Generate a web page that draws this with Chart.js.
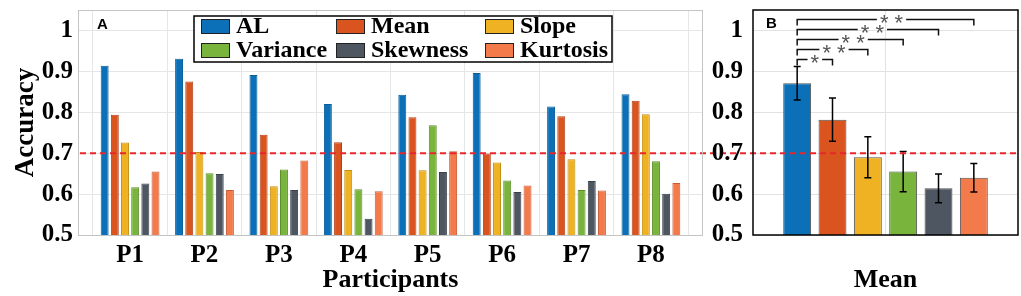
<!DOCTYPE html>
<html><head><meta charset="utf-8">
<script src="https://cdn.jsdelivr.net/npm/chart.js@4.4.1/dist/chart.umd.min.js"></script>
<style>
html,body{margin:0;padding:0;background:#fff;}
#wrap{position:relative;width:1021px;height:296px;overflow:hidden;}
#c1{position:absolute;left:0;top:0;}
#c2{position:absolute;left:705px;top:0;}
</style></head><body>
<div id="wrap">
<canvas id="c1" width="705" height="296"></canvas>
<canvas id="c2" width="316" height="296"></canvas>
</div>
<script>
// ---------- data ----------
const participants = ['P1','P2','P3','P4','P5','P6','P7','P8'];
const participantX = [1,2,3,4,5,6,7,8];
const seriesNames = ['AL','Mean','Slope','Variance','Skewness','Kurtosis'];
const AL       = [0.914,0.931,0.891,0.820,0.843,0.896,0.814,0.844];
const Mean     = [0.794,0.875,0.745,0.727,0.788,0.699,0.790,0.828];
const Slope    = [0.726,0.703,0.619,0.659,0.658,0.677,0.685,0.795];
const Variance = [0.617,0.651,0.660,0.612,0.768,0.633,0.610,0.680];
const Skewness = [0.626,0.649,0.610,0.540,0.654,0.605,0.632,0.601];
const Kurtosis = [0.655,0.610,0.682,0.607,0.705,0.621,0.609,0.627];
const seriesValues = [AL, Mean, Slope, Variance, Skewness, Kurtosis];
const meanAccuracy = [0.871,0.782,0.690,0.655,0.614,0.640];
const meanError    = [0.041,0.053,0.050,0.049,0.035,0.035];
const yTicks = [0.5,0.6,0.7,0.8,0.9,1];
const chanceLevel = 0.7;
const significance = [
  {from:0, to:1, label:'*'},
  {from:0, to:2, label:'**'},
  {from:0, to:3, label:'**'},
  {from:0, to:4, label:'**'},
  {from:0, to:5, label:'**'}
];

// ---------- styles ----------
const fills  = ['#0b70b8','#d9541e','#efb222','#79b53c','#4d5661','#f27a4b'];
const edges  = ['#0a5d98','#b2421a','#c08d10','#5e8e2c','#3a4149','#c85c35'];
const SERIF = '"Liberation Serif","Times New Roman",serif';
const SANS = '"Liberation Sans",Arial,sans-serif';
const tickFont = {family:SERIF, size:25, weight:'bold'};
const titleFont = {family:SERIF, size:26, weight:'bold'};
const fmt = v => String(Math.round(v*10)/10);
const noPad = s => { s.paddingTop = 0; s.paddingBottom = 0; s.paddingLeft = 0; s.paddingRight = 0; };

function dashLine(ctx, x0, x1, y, absOffset){
  ctx.save();
  ctx.strokeStyle = '#e8262b';
  ctx.lineWidth = 2;
  ctx.setLineDash([6,4]);
  ctx.lineDashOffset = x0 + absOffset;
  ctx.beginPath(); ctx.moveTo(x0,y); ctx.lineTo(x1,y); ctx.stroke();
  ctx.restore();
}

// ---------- left chart ----------
const leftPlugin = {
  id:'leftDeco',
  beforeDraw(chart){
    const {ctx, chartArea:a, scales:{y}} = chart;
    dashLine(ctx, a.right, chart.width, y.getPixelForValue(chanceLevel), 0);
  },
  afterDatasetsDraw(chart){
    const {ctx, chartArea:a, scales:{y}} = chart;
    dashLine(ctx, a.left, a.right, y.getPixelForValue(chanceLevel), 0);
    // box
    ctx.save();
    ctx.strokeStyle = '#c4c4c4'; ctx.lineWidth = 1;
    ctx.strokeRect(a.left+0.5, a.top+0.5, a.right-a.left-1, a.bottom-a.top);
    ctx.restore();
    // panel letter
    ctx.save();
    ctx.font = 'bold 15px ' + SANS; ctx.fillStyle = '#000';
    ctx.textBaseline = 'alphabetic'; ctx.textAlign = 'left';
    ctx.fillText('A', a.left + 19, a.top + 19);
    ctx.restore();
    // legend
    const lx = a.left + 116, ly = a.top + 6, lw = 418, lh = 46;
    ctx.save();
    ctx.fillStyle = '#fff'; ctx.fillRect(lx, ly, lw, lh);
    ctx.strokeStyle = '#000'; ctx.lineWidth = 1.5; ctx.strokeRect(lx, ly, lw, lh);
    const colX = [lx + 7, lx + 142, lx + 291];
    const rowY = [ly + 10, ly + 34];
    ctx.font = 'bold 24px ' + SERIF;
    ctx.textBaseline = 'middle'; ctx.textAlign = 'left';
    chart.data.datasets.forEach((ds, i) => {
      const cx = colX[i % 3], cy = rowY[Math.floor(i / 3)];
      ctx.fillStyle = ds.backgroundColor;
      ctx.fillRect(cx, cy - 7, 28, 14);
      ctx.strokeStyle = '#222'; ctx.lineWidth = 1;
      ctx.strokeRect(cx + 0.5, cy - 6.5, 28, 14);
      ctx.fillStyle = '#000';
      ctx.fillText(ds.label, cx + 35, cy + 1);
    });
    ctx.restore();
  }
};

new Chart(document.getElementById('c1'), {
  type:'bar',
  data:{
    datasets: seriesNames.map((name, i) => ({
      label: name,
      data: participantX.map((x, j) => ({x: x, y: seriesValues[i][j]})),
      backgroundColor: fills[i],
      borderColor: edges[i],
      borderWidth: 1,
      categoryPercentage: 0.82,
      barPercentage: 0.78
    }))
  },
  options:{
    responsive:false, animation:false,
    layout:{padding:{top:10, right:2, left:0, bottom:0}},
    plugins:{legend:{display:false}, tooltip:{enabled:false}},
    scales:{
      x:{
        type:'linear', min:0.3, max:8.7, offset:false,
        afterBuildTicks: s => { s.ticks = participantX.map(v => ({value:v})); },
        afterFit: s => { s.height = 61; noPad(s); },
        ticks:{callback: v => participants[participantX.indexOf(v)] || '', font:tickFont, color:'#000', padding:6, maxRotation:0, autoSkip:false},
        grid:{color:'#e6e6e6', drawTicks:false},
        border:{display:false},
        title:{display:true, text:'Participants', font:titleFont, color:'#000', padding:{top:0, bottom:0}}
      },
      y:{
        min:0.5, max:1.05,
        afterBuildTicks: s => { s.ticks = yTicks.map(v => ({value:v})); },
        afterFit: s => { s.width = 78; noPad(s); },
        ticks:{callback: v => fmt(v), font:tickFont, color:'#000', padding:5},
        grid:{color:'#e6e6e6', drawTicks:false},
        border:{display:false},
        title:{display:true, text:'Accuracy', font:{family:SERIF, size:27, weight:'bold'}, color:'#000', padding:{top:10, bottom:0}}
      }
    }
  },
  plugins:[leftPlugin]
});

// ---------- right chart ----------
const CANVAS2_LEFT = 705;
const rightPlugin = {
  id:'rightDeco',
  beforeDraw(chart){
    const {ctx, chartArea:a, scales:{y}} = chart;
    dashLine(ctx, 0, a.left, y.getPixelForValue(chanceLevel), CANVAS2_LEFT);
  },
  afterDatasetsDraw(chart){
    const {ctx, chartArea:a, scales:{y}} = chart;
    // error bars
    ctx.save();
    ctx.strokeStyle = '#000'; ctx.lineWidth = 1.5;
    chart.data.datasets.forEach((ds, i) => {
      const bar = chart.getDatasetMeta(i).data[0];
      const yh = y.getPixelForValue(meanAccuracy[i] + meanError[i]);
      const yl = y.getPixelForValue(meanAccuracy[i] - meanError[i]);
      ctx.beginPath();
      ctx.moveTo(bar.x, yh); ctx.lineTo(bar.x, yl);
      ctx.moveTo(bar.x - 3.5, yh); ctx.lineTo(bar.x + 3.5, yh);
      ctx.moveTo(bar.x - 3.5, yl); ctx.lineTo(bar.x + 3.5, yl);
      ctx.stroke();
    });
    ctx.restore();
    dashLine(ctx, a.left, a.right, y.getPixelForValue(chanceLevel), CANVAS2_LEFT);
    // significance brackets
    ctx.save();
    ctx.font = '22px ' + SANS;
    ctx.textAlign = 'center'; ctx.textBaseline = 'middle';
    significance.forEach((s, k) => {
      const x0 = chart.getDatasetMeta(s.from).data[0].x;
      const x1 = chart.getDatasetMeta(s.to).data[0].x;
      const yy = Math.round(y.getPixelForValue(0.929 + k * 0.0245)) + 0.5;
      const tx = (x0 + x1) / 2 + k * 1.5;
      const txt = s.label.split('').join(' ');
      const tw = ctx.measureText(txt).width + 6;
      ctx.strokeStyle = '#111'; ctx.lineWidth = 1.5;
      ctx.beginPath();
      ctx.moveTo(x0, yy + 6); ctx.lineTo(x0, yy); ctx.lineTo(tx - tw/2, yy);
      ctx.moveTo(tx + tw/2, yy); ctx.lineTo(x1, yy); ctx.lineTo(x1, yy + 6);
      ctx.stroke();
      ctx.fillStyle = '#555';
      ctx.fillText(txt, tx, yy + 4);
    });
    ctx.restore();
    // box
    ctx.save();
    ctx.strokeStyle = '#000'; ctx.lineWidth = 1.5;
    ctx.strokeRect(a.left, a.top, a.right - a.left, a.bottom - a.top);
    ctx.font = 'bold 15px ' + SANS; ctx.fillStyle = '#000';
    ctx.textAlign = 'left'; ctx.textBaseline = 'alphabetic';
    ctx.fillText('B', a.left + 13, a.top + 18);
    ctx.restore();
  }
};

new Chart(document.getElementById('c2'), {
  type:'bar',
  data:{
    labels:[''],
    datasets: seriesNames.map((name, i) => ({
      label: name,
      data: [meanAccuracy[i]],
      backgroundColor: fills[i],
      borderColor: 'rgba(50,50,50,0.85)',
      borderWidth: 1,
      categoryPercentage: 0.80,
      barPercentage: 0.79
    }))
  },
  options:{
    responsive:false, animation:false,
    layout:{padding:{top:10, right:3, left:0, bottom:0}},
    plugins:{legend:{display:false}, tooltip:{enabled:false}},
    scales:{
      x:{
        afterFit: s => { s.height = 61; noPad(s); },
        ticks:{font:tickFont, color:'#000'},
        grid:{color:'#e2e2e2', drawTicks:false, offset:false},
        border:{display:false},
        title:{display:true, text:'Mean', font:titleFont, color:'#000', padding:{top:0, bottom:0}}
      },
      y:{
        min:0.5, max:1.05,
        afterBuildTicks: s => { s.ticks = yTicks.map(v => ({value:v})); },
        afterFit: s => { s.width = 48; noPad(s); },
        ticks:{callback: v => fmt(v), font:tickFont, color:'#000', padding:10},
        grid:{color:'#e2e2e2', drawTicks:false},
        border:{display:false}
      }
    }
  },
  plugins:[rightPlugin]
});
</script>
</body></html>
